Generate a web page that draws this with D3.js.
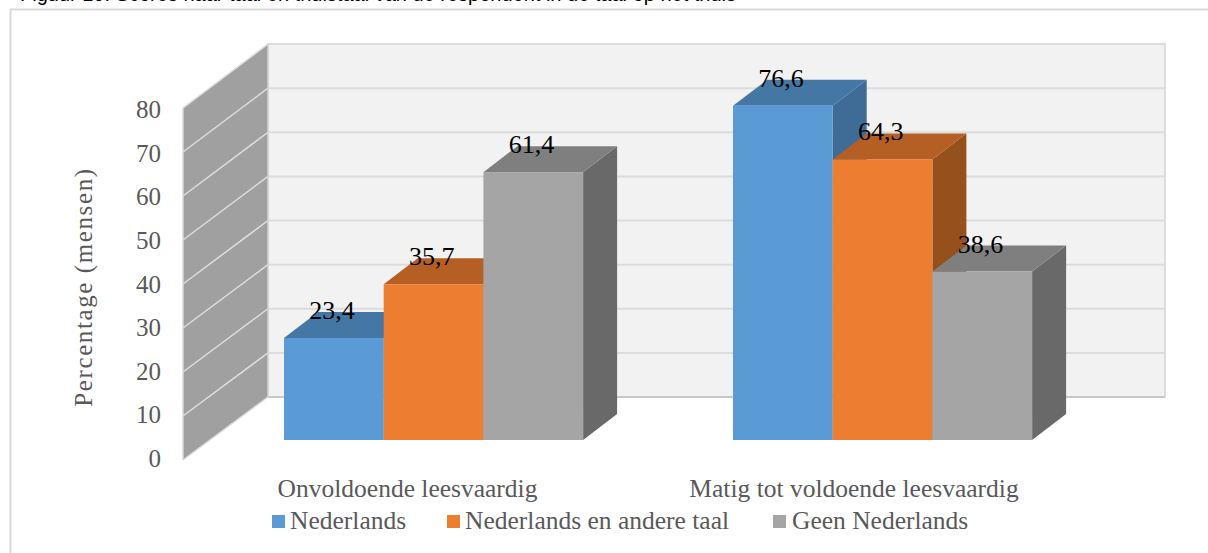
<!DOCTYPE html>
<html lang="en">
<head>
<meta charset="UTF-8">
<script src="https://d3js.org/d3.v7.min.js"></script>
<style>
    html, body { margin: 0; padding: 0; background: #fff; overflow: hidden; }
    svg { display: block; }
    text { font-family: "Liberation Serif", serif; fill: #595959; }
    .caption { font-family: "Liberation Sans", Arial, sans-serif; font-size: 20px; fill: #000; }
</style>
</head>
<body>
<div id="chart"></div>
<script>
var categories = ["Onvoldoende leesvaardig", "Matig tot voldoende leesvaardig"];
var seriesNames = ["Nederlands", "Nederlands en andere taal", "Geen Nederlands"];
var nederlands = [23.4, 76.6];
var nederlandsAndere = [35.7, 64.3];
var geenNederlands = [61.4, 38.6];
var yTicks = [0, 10, 20, 30, 40, 50, 60, 70, 80];
var yLabel = "Percentage (mensen)";
var caption = "Figuur 10: Scores naar taal en thuistaal van de respondent in de taal op het thuis";

var frontColors = ["#5b9bd5", "#ed7d31", "#a5a5a5"];
var topColors = ["#4577a5", "#b55f25", "#7f7f7f"];
var sideColors = ["#3e6c97", "#95501c", "#696969"];

var width = 1208, height = 553;
var svg = d3.select("#chart").append("svg").attr("width", width).attr("height", height);

// caption is cut off by the top of the picture, same as the source
svg.append("text").attr("class", "caption").attr("x", 20).attr("y", 0.5).text(caption);

// outer frame, open at right and bottom
svg.append("path")
    .attr("d", "M10.5,553V9.5H1208")
    .attr("fill", "none").attr("stroke", "#d9d9d9").attr("stroke-width", 2);

// fake 3d: side wall edge, back wall and bar plane each get their own scale
var wallX = 183, backX = 268, backRight = 1165;
var yFront = d3.scaleLinear().domain([0, 80]).range([460, 108]);
var yBack = d3.scaleLinear().domain([0, 80]).range([397, 44]);
var yBar = d3.scaleLinear().domain([0, 80]).range([440, 91]);
var yTickText = d3.scaleLinear().domain([0, 80]).range([467, 118]);
var barDx = 34, barDy = -26;

var groupX = d3.scalePoint().domain(categories).range([284, 733]);
var barW = 99.7;

var line = d3.line();

// back wall
svg.append("rect")
    .attr("x", backX).attr("y", yBack(80))
    .attr("width", backRight - backX).attr("height", yBack(0) - yBack(80))
    .attr("fill", "#f2f2f2").attr("stroke", "#d4d4d4").attr("stroke-width", 1.5);

svg.selectAll(".grid").data(yTicks).enter().append("line")
    .attr("class", "grid")
    .attr("x1", backX).attr("x2", backRight)
    .attr("y1", function(d) { return yBack(d); })
    .attr("y2", function(d) { return yBack(d); })
    .attr("stroke", function(d) { return d === 0 ? "#c8c8c8" : "#dcdcdc"; })
    .attr("stroke-width", 2);

// side wall
svg.append("path")
    .attr("d", line([[wallX, yFront(0)], [backX, yBack(0)], [backX, yBack(80)], [wallX, yFront(80)]]) + "Z")
    .attr("fill", "#a0a0a0");

svg.selectAll(".wallgrid").data(yTicks).enter().append("line")
    .attr("class", "wallgrid")
    .attr("x1", wallX).attr("x2", backX)
    .attr("y1", function(d) { return yFront(d); })
    .attr("y2", function(d) { return yBack(d); })
    .attr("stroke", "#dedede").attr("stroke-width", 1.5);

svg.append("line")
    .attr("x1", wallX).attr("x2", wallX)
    .attr("y1", yFront(0)).attr("y2", yFront(80))
    .attr("stroke", "#d9d9d9").attr("stroke-width", 1.5);
svg.append("line")
    .attr("x1", backX).attr("x2", backX)
    .attr("y1", yBack(0)).attr("y2", yBack(80))
    .attr("stroke", "#d4d4d4").attr("stroke-width", 1.5);

// y ticks
svg.selectAll(".ytick").data(yTicks).enter().append("text")
    .attr("class", "ytick")
    .attr("x", 161).attr("text-anchor", "end")
    .attr("y", function(d) { return yTickText(d); })
    .style("font-size", "25px")
    .text(function(d) { return d; });

svg.append("text")
    .attr("transform", "translate(92,287)rotate(-90)")
    .attr("text-anchor", "middle")
    .style("font-size", "25px")
    .style("letter-spacing", "1.6px")
    .text(yLabel);

// bars, drawn left to right per group so the faces overlap correctly
var allSeries = [nederlands, nederlandsAndere, geenNederlands];
categories.forEach(function(cat, c) {
    allSeries.forEach(function(values, s) {
        var v = values[c];
        var left = groupX(cat) + s * barW, right = left + barW;
        var top = yBar(v), base = yBar(0);
        var g = svg.append("g");
        g.append("path")
            .attr("d", line([[right, base], [right + barDx, base + barDy], [right + barDx, top + barDy], [right, top]]) + "Z")
            .attr("fill", sideColors[s]);
        g.append("path")
            .attr("d", line([[left, top], [left + barDx, top + barDy], [right + barDx, top + barDy], [right, top]]) + "Z")
            .attr("fill", topColors[s]);
        g.append("rect")
            .attr("x", left).attr("y", top)
            .attr("width", barW).attr("height", base - top)
            .attr("fill", frontColors[s]);
    });
});

// data labels on top of everything
categories.forEach(function(cat, c) {
    allSeries.forEach(function(values, s) {
        svg.append("text")
            .attr("x", groupX(cat) + s * barW + 48)
            .attr("y", yBar(values[c]) - 19)
            .attr("text-anchor", "middle")
            .style("font-size", "26px")
            .style("fill", "#000")
            .text(String(values[c]).replace(".", ","));
    });
});

// category labels
var catX = [407.5, 854];
svg.selectAll(".cat").data(categories).enter().append("text")
    .attr("class", "cat")
    .attr("x", function(d, i) { return catX[i]; })
    .attr("y", 497)
    .attr("text-anchor", "middle")
    .style("font-size", "25.5px")
    .text(function(d) { return d; });

// legend
var legendBoxX = [272, 447, 773];
var legendTextX = [290, 465, 792];
seriesNames.forEach(function(name, i) {
    svg.append("rect")
        .attr("x", legendBoxX[i]).attr("y", 515)
        .attr("width", 13).attr("height", 13)
        .attr("fill", frontColors[i]);
    svg.append("text")
        .attr("x", legendTextX[i]).attr("y", 529)
        .style("font-size", "25.5px")
        .text(name);
});
</script>
</body>
</html>
